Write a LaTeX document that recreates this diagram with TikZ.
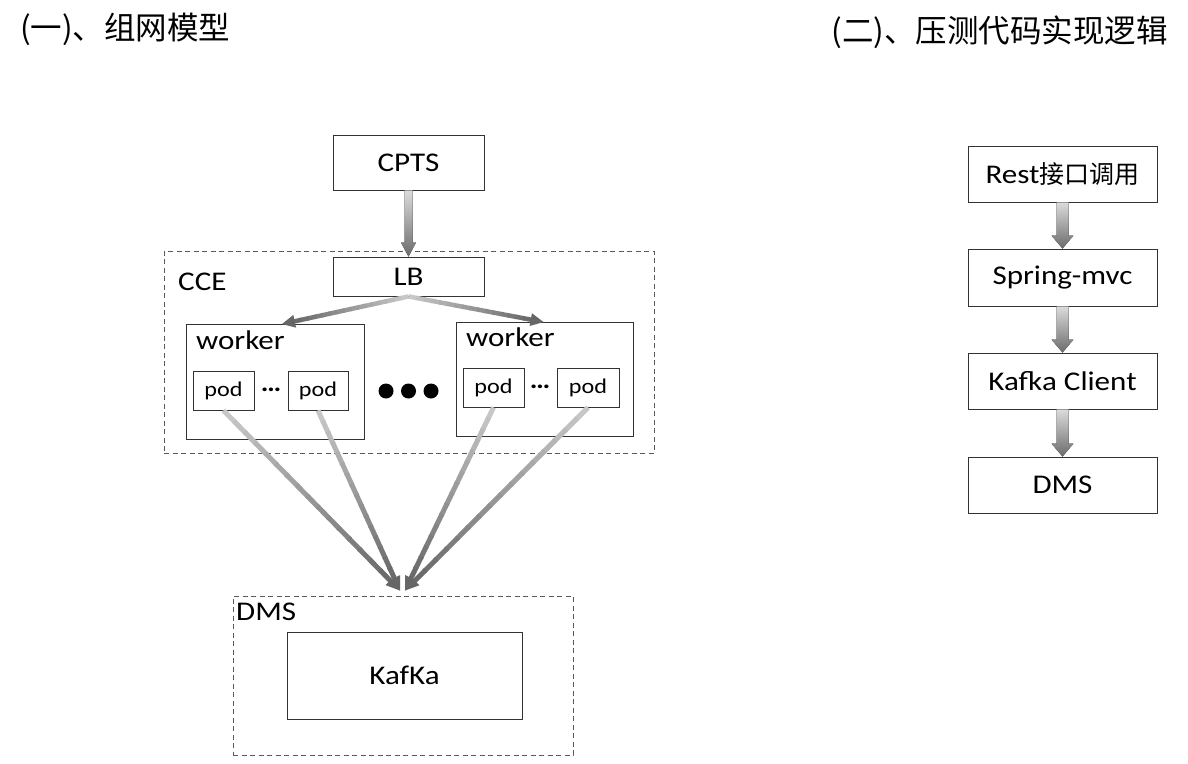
\documentclass[tikz,border=0pt]{standalone}
\usepackage{fontspec}
\setmainfont{Carlito}[FakeStretch=1.15]
\newfontfamily\cjk{Noto Sans CJK SC}
\usetikzlibrary{calc,arrows.meta}
% block arrow (vertical, shaded) from anchor #1 to anchor #2
\newcommand\vblock[5]{%
  \fill[top color=black!14, bottom color=black!58]
    ($(#1)+(-#3,0)$) -- ($(#2)+(-#3,-#5)$) -- ($(#2)+(-#4,-#5)$) -- (#2)
    -- ($(#2)+(#4,-#5)$) -- ($(#2)+(#3,-#5)$) -- ($(#1)+(#3,0)$) -- cycle;}
% line with a colour gradient along it, ending in a filled head
\newcommand\gradconn[5]{%
  \path ($(#2)!#5pt!(#1)$) coordinate (gbase);
  \foreach \gi in {0,...,15}{%
    \pgfmathsetmacro\gC{22+36*\gi/15}%
    \pgfmathsetmacro\gS{\gi/16}%
    \pgfmathsetmacro\gT{(\gi+1)/16+0.01}%
    \draw[line width=#3pt, draw=black!\gC] ($(#1)!\gS!(gbase)$) -- ($(#1)!\gT!(gbase)$);
  }%
  \fill[black!60] (#2) -- ($(gbase)!#4pt!90:(#2)$) -- ($(gbase)!#4pt!-90:(#2)$) -- cycle;}
\tikzset{
  box/.style={draw=black!80, line width=0.9pt, inner sep=0pt, font=\fontsize{27}{32}\selectfont},
  podbox/.style={draw=black!80, line width=0.9pt, inner sep=0pt, font=\fontsize{21}{25}\selectfont},
  group/.style={draw=black!65, line width=0.9pt, dash pattern=on 5pt off 3.5pt, inner sep=0pt},
  lbl/.style={inner sep=0pt, font=\fontsize{27}{32}\selectfont},
  title/.style={inner sep=0pt, font=\cjk\fontsize{31.5}{36}\selectfont},
  bigdot/.style={circle, fill=black, inner sep=0pt, minimum size=15pt},
  ell/.style={inner sep=0pt, font=\fontsize{25}{28}\selectfont\bfseries},
}
\begin{document}
\begin{tikzpicture}[x=1pt, y=-1pt]
\useasboundingbox[fill=white] (0,0) rectangle (1188,763);

% titles
\node[title, anchor=west] (t1) at (20,29) {(一)、组网模型};
\node[title, anchor=east] (t2) at (1168,32) {(二)、压测代码实现逻辑};

% left: network model
\node[group, minimum width=490pt, minimum height=202pt] (cce) at (409,352) {};
\node[lbl, anchor=base west] (ccel) at (178,290.5) {CCE};
\node[box, minimum width=151pt, minimum height=55pt] (cpts) at (408.5,162.5) {CPTS};
\node[box, minimum width=151pt, minimum height=39pt] (lb) at (408.5,276.5) {LB};

\node[box, minimum width=178pt, minimum height=115pt] (w1) at (275,381.5) {};
\node[lbl, anchor=base west] (w1l) at (196,349) {worker};
\node[podbox, minimum width=61pt, minimum height=39pt] (p1) at (223.5,390.5) {pod};
\node[podbox, minimum width=60pt, minimum height=39pt] (p2) at (318,390.5) {pod};
\node[ell] (e1) at (271,390) {…};

\node[box, minimum width=177pt, minimum height=114pt] (w2) at (544.5,379) {};
\node[lbl, anchor=base west] (w2l) at (466,346) {worker};
\node[podbox, minimum width=61pt, minimum height=39pt] (p3) at (493.5,387.5) {pod};
\node[podbox, minimum width=62pt, minimum height=39pt] (p4) at (588,387.5) {pod};
\node[ell] (e2) at (540,387) {…};

\node[bigdot] (d1) at (386,391) {};
\node[bigdot] (d2) at (408.5,391) {};
\node[bigdot] (d3) at (431,391) {};

\node[group, minimum width=340pt, minimum height=159pt] (dms) at (403,675.5) {};
\node[lbl, anchor=base west] (dmsl) at (236,620.5) {DMS};
\node[box, minimum width=235pt, minimum height=87pt] (kafka) at (404.5,675.5) {KafKa};

\coordinate (w1in) at ($(w1.north)+(7,0.5)$);
\coordinate (w2in) at ($(w2.north)+(-1,0.5)$);
\coordinate (tipL) at ($(dms.north)+(-3,-5)$);
\coordinate (tipR) at ($(dms.north)+(2,-5)$);

\vblock{cpts.south}{lb.north}{4}{7.5}{14}
\gradconn{lb.south}{w1in}{4.5}{6.5}{13}
\gradconn{lb.south}{w2in}{4.5}{6.5}{13}
\gradconn{p1.south}{tipL}{5}{6.5}{14}
\gradconn{p2.south}{tipL}{5}{6.5}{14}
\gradconn{p3.south}{tipR}{5}{6.5}{14}
\gradconn{p4.south}{tipR}{5}{6.5}{14}

% right: code logic
\node[box, minimum width=189pt, minimum height=56pt] (rest) at (1062.5,174) {Rest{\cjk\fontsize{25}{30}\selectfont 接口调用}};
\node[box, minimum width=189pt, minimum height=57pt] (spring) at (1062.5,277.5) {Spring-mvc};
\node[box, minimum width=189pt, minimum height=56pt] (kc) at (1062.5,381) {Kafka Client};
\node[box, minimum width=189pt, minimum height=56pt] (dms2) at (1062.5,485) {DMS};

\vblock{rest.south}{spring.north}{6}{11}{13}
\vblock{spring.south}{kc.north}{6}{11}{13}
\vblock{kc.south}{dms2.north}{6}{11}{13}
\end{tikzpicture}
\end{document}
